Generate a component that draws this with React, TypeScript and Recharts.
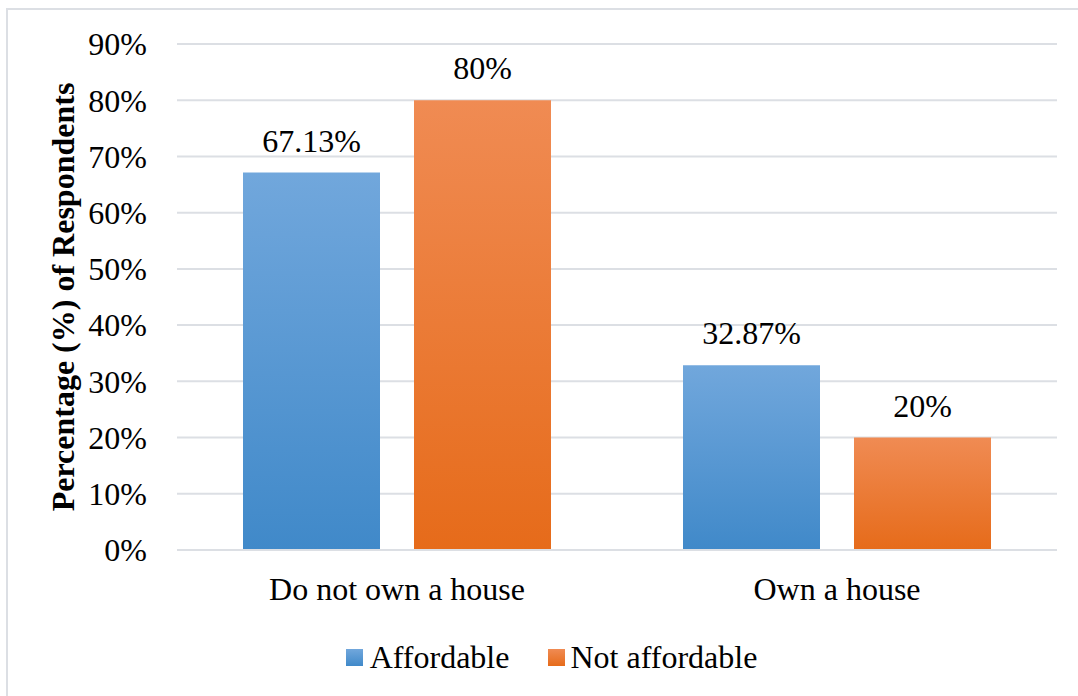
import React from 'react';
import { BarChart, Bar, XAxis, YAxis, CartesianGrid, Legend, LabelList, Label } from 'recharts';

const categories = ['Do not own a house', 'Own a house'];
const affordable = [67.13, 32.87];
const notAffordable = [80, 20];
const yTicks = [0, 10, 20, 30, 40, 50, 60, 70, 80, 90];
const seriesNames = ['Affordable', 'Not affordable'];

const data = categories.map((c, i) => ({ name: c, a: affordable[i], n: notAffordable[i] }));

const FONT = "'Liberation Serif', 'Times New Roman', serif";
const FS = 32;

const LegendContent = () => (
  <div style={{ display: 'flex', justifyContent: 'center', alignItems: 'center', height: 46, paddingLeft: 46, fontFamily: FONT, fontSize: FS, color: '#000' }}>
    <div style={{ display: 'flex', alignItems: 'center', marginRight: 39 }}>
      <div style={{ width: 17, height: 17, background: 'linear-gradient(#71a7dc, #4089c9)', marginRight: 7 }} />
      <span>{seriesNames[0]}</span>
    </div>
    <div style={{ display: 'flex', alignItems: 'center' }}>
      <div style={{ width: 17, height: 17, background: 'linear-gradient(#f08b53, #e66b1a)', marginRight: 5 }} />
      <span>{seriesNames[1]}</span>
    </div>
  </div>
);

const YLabel = (props: any) => {
  const vb = props.viewBox || {};
  const cx = (vb.x ?? 0) + 63;
  const cy = (vb.y ?? 0) + (vb.height ?? 0) / 2;
  return (
    <text x={cx} y={cy} transform={`rotate(-90, ${cx}, ${cy})`} textAnchor="middle" dominantBaseline="central" fontFamily={FONT} fontSize={FS} fontWeight="bold" fill="#000">
      Percentage (%) of Respondents
    </text>
  );
};

export default function App() {
  return (
    <div style={{ position: 'absolute', left: 0, top: 0, width: 1078, height: 696, overflow: 'hidden', background: '#fff' }}>
      <div style={{ position: 'absolute', left: 6, top: 8, width: 1100, height: 720, border: '2px solid #dcdfe4', boxSizing: 'border-box' }} />
      <BarChart width={1078} height={696} data={data} margin={{ top: 44, right: 21, left: 0, bottom: 16 }} barSize={137} barGap={34} style={{ position: 'absolute', left: 0, top: 0 }}>
        <defs>
          <linearGradient id="gBlue" x1="0" y1="0" x2="0" y2="1">
            <stop offset="0%" stopColor="#71a7dc" />
            <stop offset="100%" stopColor="#4089c9" />
          </linearGradient>
          <linearGradient id="gOrange" x1="0" y1="0" x2="0" y2="1">
            <stop offset="0%" stopColor="#f08b53" />
            <stop offset="100%" stopColor="#e66b1a" />
          </linearGradient>
        </defs>
        <CartesianGrid vertical={false} stroke="#dcdfe4" strokeWidth={2} />
        <XAxis dataKey="name" height={84} axisLine={{ stroke: '#dcdfe4', strokeWidth: 2 }} tickLine={false} tickSize={0} tickMargin={27} tick={{ fontFamily: FONT, fontSize: FS, fill: '#000' }} />
        <YAxis width={177} domain={[0, 90]} ticks={yTicks} interval={0} axisLine={false} tickLine={false} tickSize={0} tickMargin={30} tickFormatter={(v: number) => `${v}%`} tick={{ fontFamily: FONT, fontSize: FS, fill: '#000' }}>
          <Label content={<YLabel />} />
        </YAxis>
        <Legend verticalAlign="bottom" content={<LegendContent />} />
        <Bar dataKey="a" name={seriesNames[0]} fill="url(#gBlue)" isAnimationActive={false}>
          <LabelList dataKey="a" position="top" offset={21} formatter={(v: any) => `${v}%`} style={{ fontFamily: FONT, fontSize: FS, fill: '#000' }} />
        </Bar>
        <Bar dataKey="n" name={seriesNames[1]} fill="url(#gOrange)" isAnimationActive={false}>
          <LabelList dataKey="n" position="top" offset={21} formatter={(v: any) => `${v}%`} style={{ fontFamily: FONT, fontSize: FS, fill: '#000' }} />
        </Bar>
      </BarChart>
    </div>
  );
}
